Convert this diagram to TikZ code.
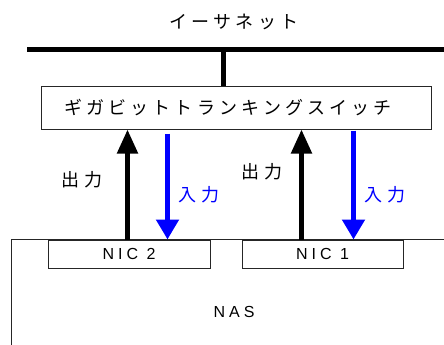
\documentclass[tikz,border=0pt]{standalone}
\usepackage{fontspec}
\setmainfont{Liberation Sans}
\newfontfamily\jpfont{Noto Sans CJK JP}
\usetikzlibrary{arrows.meta}
\definecolor{inblue}{RGB}{0,0,255}
\tikzset{
  box/.style={draw=black!85, line width=1pt, rectangle, inner sep=0pt},
  bus/.style={line width=5pt},
  outarr/.style={line width=5pt, -{Triangle[width=20pt,length=24pt]}},
  inarr/.style={line width=5pt, inblue, -{Triangle[width=22pt,length=20pt]}},
  jp/.style={font=\jpfont\fontsize{18}{20}\selectfont\addfontfeature{LetterSpace=23}},
  lat/.style={font=\fontsize{16}{18}\selectfont\addfontfeature{LetterSpace=25}},
}
\begin{document}
\begin{tikzpicture}[x=1pt,y=-1pt]
\useasboundingbox (0,0) rectangle (444,345);
% ethernet
\node[jp] (eth) at (234,22) {イーサネット};
\coordinate (busL) at (27,50);
\coordinate (busR) at (444,50);
\draw[bus] (busL) -- (busR);
% switch
\node[box, minimum width=390pt, minimum height=43pt, jp] (sw) at (236,107.5) {ギガビットトランキングスイッチ\hspace*{16pt}};
\coordinate (tap) at (223,50);
\draw[bus] (tap) -- (tap |- sw.north);
% NAS
\node[minimum width=432pt, minimum height=105pt, inner sep=0pt] (nas) at (228,292.5) {};
\draw[line width=1pt, black!85] (nas.south west) -- (nas.north west) -- (nas.north east);
\node[lat] (nastext) at (234,312) {NAS};
% NICs
\node[box, minimum width=162pt, minimum height=28pt, lat] (nic2) at (129,254) {NIC 2};
\node[box, minimum width=161pt, minimum height=28pt, lat] (nic1) at (322.5,254) {NIC 1};
% arrows
\draw[outarr] ([xshift=80pt]nic2.north west) -- ([xshift=87pt]sw.south west);
\draw[inarr] ([xshift=127pt]sw.south west) ++(0,4) -- ([xshift=120pt]nic2.north west);
\draw[outarr] ([xshift=60pt]nic1.north west) -- ([xshift=261pt]sw.south west);
\draw[inarr] ([xshift=313pt]sw.south west) ++(0,1) -- ([xshift=112pt]nic1.north west);
% labels
\node[jp] (out2) at (82,180) {出力};
\node[jp] (out1) at (262,172) {出力};
\node[jp, text=inblue] (in2) at (199,195) {入力};
\node[jp, text=inblue] (in1) at (385,195) {入力};
\end{tikzpicture}
\end{document}
